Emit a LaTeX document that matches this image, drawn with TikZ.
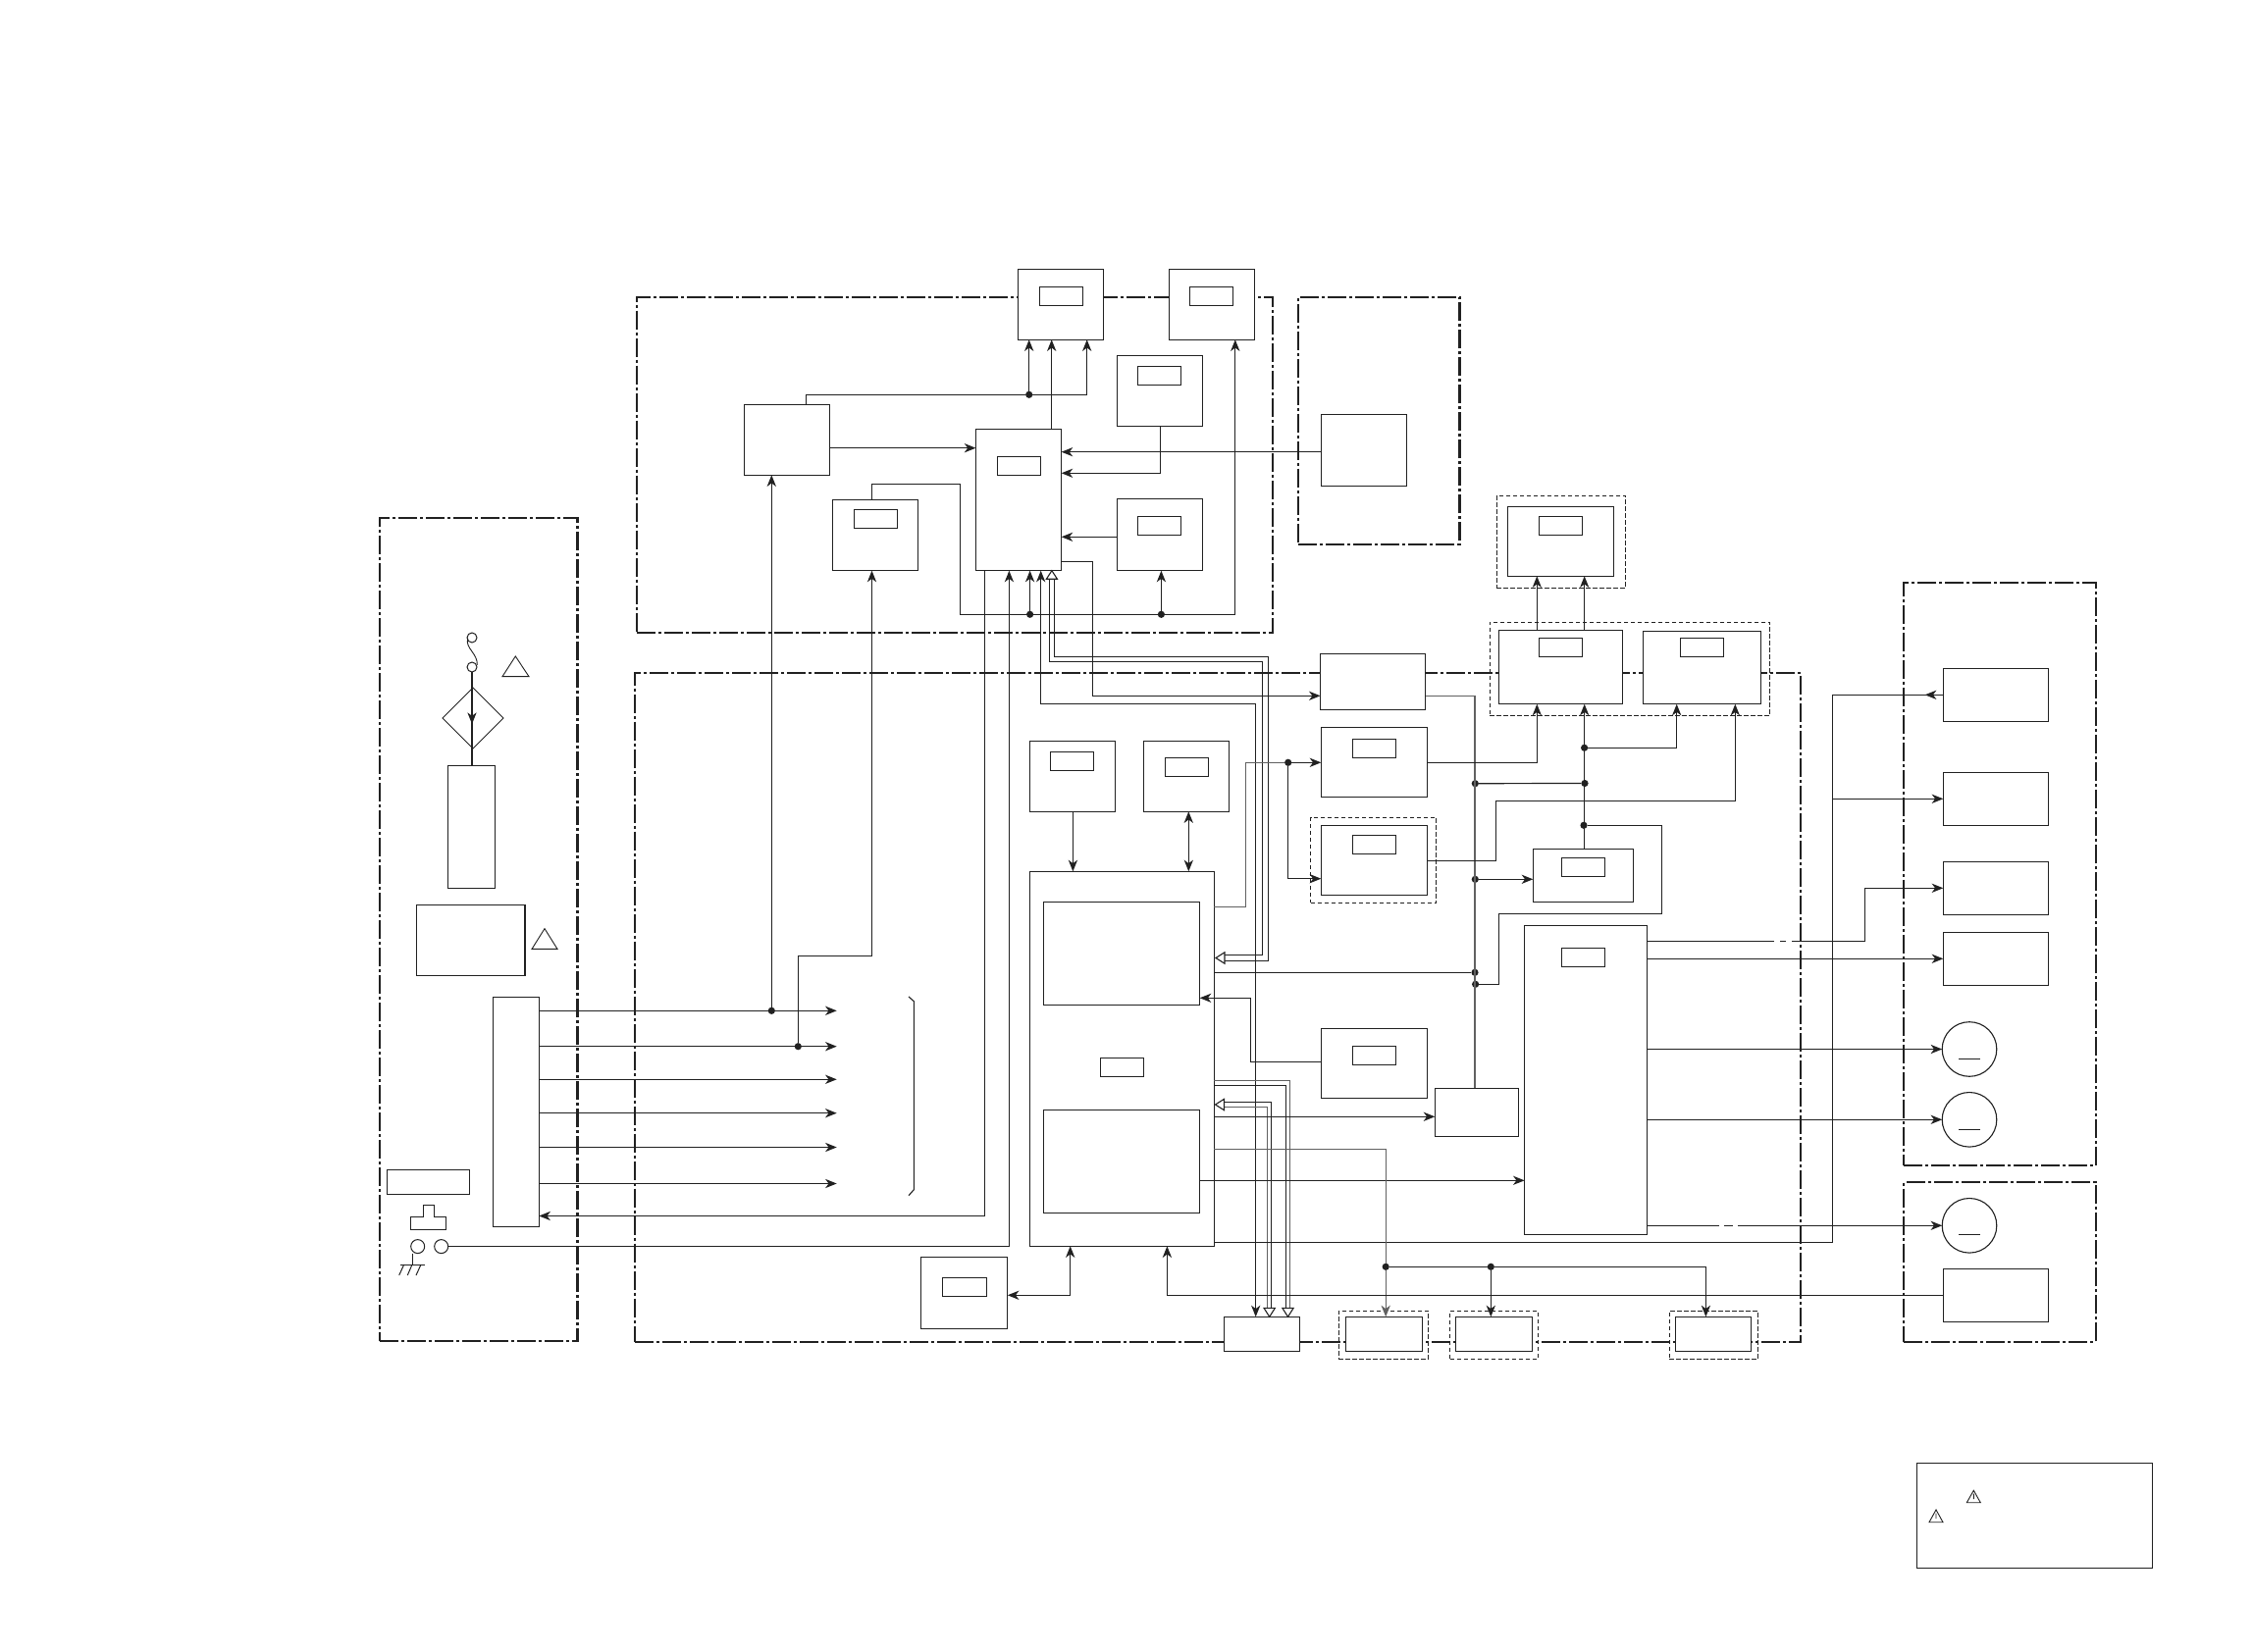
\documentclass[tikz,border=0pt]{standalone}
\usetikzlibrary{arrows.meta,shapes.geometric}
\definecolor{dk}{gray}{0.13}
\definecolor{md}{gray}{0.38}
\tikzset{
  x=0.5pt,y=-0.5pt,
  boxnode/.style={draw=dk,fill=white,line width=.6pt,rectangle,inner sep=0pt,outer sep=0pt},
  innerbox/.style={boxnode,line width=.55pt},
  panel/.style={draw=dk,rectangle,inner sep=0pt,outer sep=0pt,line width=1.15pt,dash pattern=on 9.5pt off 1.5pt on 1.5pt off 1.5pt},
  dashbox/.style={draw=dk,rectangle,inner sep=0pt,outer sep=0pt,line width=.45pt,dash pattern=on 2.2pt off 1.3pt},
  conn/.style={draw=dk,line width=.6pt},
  arr/.style={conn,-{Stealth[length=5.8pt,width=4.6pt,inset=1.7pt]}},
  darr/.style={conn,{Stealth[length=5.8pt,width=4.6pt,inset=1.7pt]}-{Stealth[length=5.8pt,width=4.6pt,inset=1.7pt]}},
  dot/.style={circle,fill=dk,draw=none,inner sep=0pt,minimum size=3.6pt,outer sep=0pt},
  ringnode/.style={circle,draw=dk,fill=white,line width=.5pt,inner sep=0pt,outer sep=0pt,minimum size=7pt},
  motornode/.style={circle,draw=dk,fill=white,line width=.55pt,inner sep=0pt,outer sep=0pt,minimum size=27.8pt},
  hollow/.style={draw=dk,fill=white,line width=.55pt,line join=miter},
  thin sym/.style={draw=dk,line width=.45pt}
}
\newcommand\rbox[6][boxnode]{\node[#1,minimum width={(#5-#3)*0.5pt},minimum height={(#6-#4)*0.5pt}] (#2) at ({(#3+#5)/2},{(#4+#6)/2}) {};}
\newcommand\hollowL[2]{\draw[hollow] (#1,#2) -- ({#1+9},{#2-5.7}) -- ({#1+9},{#2+5.7}) -- cycle;}
\newcommand\hollowD[2]{\draw[hollow] (#1,#2) -- ({#1-5.7},{#2-9}) -- ({#1+5.7},{#2-9}) -- cycle;}
\newcommand\hollowU[2]{\draw[hollow] (#1,#2) -- ({#1-5.5},{#2+8.5}) -- ({#1+5.5},{#2+8.5}) -- cycle;}
\begin{document}
\begin{tikzpicture}
\path[fill=white,use as bounding box] (0,0) rectangle (2296,1684);
% panels
\rbox[panel]{PL}{387}{528.3}{588.5}{1367.3}
\rbox[panel]{PT}{649}{302.7}{1297}{644.7}
\rbox[panel]{PS}{1323}{302.7}{1487.5}{554.7}
\rbox[panel]{PM}{647}{685.7}{1835}{1367.7}
\rbox[panel]{PA}{1940}{594.3}{2135.7}{1188.3}
\rbox[panel]{PB}{1940}{1205.3}{2135.7}{1367.7}
% dashed surrounds
\rbox[dashbox]{DA}{1525.3}{505.3}{1656.7}{599.3}
\rbox[dashbox]{DB}{1518.3}{634}{1803.7}{729.3}
\rbox[dashbox]{DC}{1335.6}{833.3}{1463.8}{920.3}
\rbox[dashbox]{DD}{1364.3}{1336.3}{1455.8}{1385.3}
\rbox[dashbox]{DE}{1477.6}{1336.3}{1567.5}{1385.3}
\rbox[dashbox]{DF}{1701.3}{1336.3}{1791.5}{1385.3}
% top section boxes
\rbox{UA}{1037.7}{274.3}{1124.4}{346.3}
\rbox[innerbox]{UAi}{1059.6}{292.3}{1103.5}{311.7}
\rbox{UB}{1191.3}{274.3}{1278.5}{346.3}
\rbox[innerbox]{UBi}{1212.7}{292.3}{1256.6}{311.7}
\rbox{UC}{1138.6}{362.3}{1225.3}{434.3}
\rbox[innerbox]{UCi}{1159.5}{373.3}{1203.4}{392.3}
\rbox{UD}{758.5}{412.3}{845.7}{484.3}
\rbox{UE}{994.4}{437.3}{1081.6}{581.7}
\rbox[innerbox]{UEi}{1016.9}{465.3}{1060.7}{484.7}
\rbox{UF}{848.4}{509.3}{935.7}{581.7}
\rbox[innerbox]{UFi}{870.4}{519.3}{914.3}{538.3}
\rbox{UG}{1138.6}{508.3}{1225.3}{581.7}
\rbox[innerbox]{UGi}{1159.5}{526.3}{1203.4}{545.7}
\rbox{UH}{1346.5}{422.3}{1433.7}{495.3}
% main section boxes
\rbox{MA}{1345.6}{666.3}{1452.7}{723.3}
\rbox{MB}{1346.3}{741.3}{1454.6}{812.3}
\rbox[innerbox]{MBi}{1378.5}{753.3}{1422.5}{772.3}
\rbox{MC}{1346.3}{841.3}{1454.6}{912.3}
\rbox[innerbox]{MCi}{1378.5}{851.3}{1422.5}{870.3}
\rbox{MD}{1049.4}{755.3}{1136.6}{827.3}
\rbox[innerbox]{MDi}{1070.4}{766.3}{1114.8}{785.3}
\rbox{ME}{1165.3}{755.3}{1252.6}{827.3}
\rbox[innerbox]{MEi}{1187.5}{772.3}{1231.5}{791.3}
\rbox{IC}{1049.4}{888.3}{1237.3}{1270.3}
\rbox[innerbox]{ICa}{1063.5}{919.3}{1222.7}{1024.3}
\rbox[innerbox]{ICb}{1063.5}{1131.3}{1222.7}{1236.3}
\rbox[innerbox]{ICc}{1121.3}{1078.3}{1165.7}{1097.3}
\rbox{MF}{1346.3}{1048.3}{1454.6}{1119.3}
\rbox[innerbox]{MFi}{1378.5}{1066.3}{1422.5}{1085.3}
\rbox{MG}{1462.3}{1109.3}{1547.6}{1158.3}
\rbox{MH}{1562.3}{865.3}{1664.3}{919.3}
\rbox[innerbox]{MHi}{1591.3}{874.3}{1635.7}{893.3}
\rbox{MI}{1553.6}{943.3}{1678.6}{1258.3}
\rbox[innerbox]{MIi}{1591.5}{966.3}{1635.7}{985.3}
\rbox{MJ}{938.7}{1281.3}{1026.8}{1354.3}
\rbox[innerbox]{MJi}{960.6}{1302.3}{1005.7}{1321.3}
\rbox{MK}{1247.2}{1342.3}{1324.5}{1377.3}
\rbox{ML}{1371.6}{1342.3}{1449.7}{1377.3}
\rbox{MM}{1483.3}{1342.3}{1561.4}{1377.3}
\rbox{MN}{1707.6}{1342.3}{1784.4}{1377.3}
\rbox{TA}{1536.3}{516.3}{1644.7}{587.3}
\rbox[innerbox]{TAi}{1568.3}{526.3}{1612.7}{545.3}
\rbox{TB}{1527.3}{642.3}{1653.7}{717.7}
\rbox[innerbox]{TBi}{1568.3}{650.3}{1612.7}{669.3}
\rbox{TC}{1674.3}{643.3}{1794.7}{717.7}
\rbox[innerbox]{TCi}{1712.3}{650.3}{1756.7}{669.3}
% right boxes
\rbox{RA}{1980.3}{681.3}{2087.7}{735.3}
\rbox{RB}{1980.3}{787.3}{2087.7}{841.3}
\rbox{RC}{1980.3}{878.3}{2087.7}{932.3}
\rbox{RD}{1980.3}{950.3}{2087.7}{1004.3}
\rbox{RE}{1980.3}{1293.3}{2087.7}{1347.3}
\node[motornode] (MOa) at (2007,1069.5) {};
\node[motornode] (MOb) at (2007,1141.3) {};
\node[motornode] (MOc) at (2007,1249.3) {};
\draw[thin sym] (1996,1079.3) -- (2018,1079.3);
\draw[thin sym] (1996,1151.3) -- (2018,1151.3);
\draw[thin sym] (1996,1258.3) -- (2018,1258.3);
% left panel
\rbox{LA}{456.3}{780.5}{504.7}{905.6}
\rbox{LB}{424.3}{922.5}{535}{994.3}
\rbox{CN}{502.3}{1016.7}{549.3}{1250.7}
\rbox{LC}{394.3}{1192.4}{478.7}{1217.4}
\node[diamond,aspect=1,draw=dk,fill=white,line width=.5pt,inner sep=0pt,outer sep=0pt,minimum width=31pt,minimum height=31pt] (DI) at (482,732) {};
\node[ringnode,minimum size=5pt] (CLa) at (481,650) {};
\node[ringnode,minimum size=5pt] (CLb) at (481,680) {};
\draw[conn,line width=.45pt] (476.6,651) .. controls (474,661) and (487,666) .. (486.3,678);
\draw[thin sym] (525.3,669) -- (512,689.6) -- (539,689.6) -- cycle;
\draw[thin sym] (555,946.6) -- (542,967.4) -- (568,967.4) -- cycle;
\draw[conn] (CLb.south) -- (CLb.south |- LA.north);
\draw[arr] (CLb.south) -- (481,738);
\draw[conn,line width=.5pt] (418.3,1240.6) -- (431,1240.6) -- (431,1228.9) -- (442.7,1228.9) -- (442.7,1240.6) -- (454,1240.6) -- (454,1253) -- (418.3,1253) -- cycle;
\node[ringnode] (JA) at (425.7,1270.6) {};
\node[ringnode] (JB) at (449.7,1270.6) {};
\coordinate (GN) at (420,1289);
\draw[conn,line width=.5pt] (JA.south -| GN) -- (GN);
\draw[conn,line width=.5pt] (408,1289) -- (433,1289);
\draw[conn,line width=.5pt] (411.7,1289) -- (406.7,1300) (420,1289) -- (415.3,1300) (429,1289) -- (424,1300);
% six supply arrows
\coordinate (Ea) at (852.7,1030.3);
\coordinate (Eb) at (852.7,1066.7);
\coordinate (Ec) at (852.7,1100.3);
\coordinate (Ed) at (852.7,1134.7);
\coordinate (Ee) at (852.7,1169.5);
\coordinate (Ef) at (852.7,1206.5);
\foreach \e in {Ea,Eb,Ec,Ed,Ee,Ef}{\draw[arr] (CN.east |- \e) -- (\e);}
\draw[conn,line width=.55pt] (926,1016) -- (931.3,1020.7) -- (931.3,1212.7) -- (926,1218.7);
\node[dot] (Da) at (786.3,1030.3) {};
\node[dot] (Db) at (813.3,1066.7) {};
\draw[arr] (Da) -- (Da |- UD.south);
\draw[arr] (Db) -- (813.3,974.6) -- (888.5,974.6) -- (888.5,0 |- UF.south);
\draw[arr] (UE.south -| 1003.7,0) -- (1003.7,1239.5) -- (CN.east |- 0,1239.5);
\draw[arr] (JB.east) -- (1028.4,1270.6) -- (1028.4,0 |- UE.south);
% top section connectors
\node[dot] (Dc) at (1048.7,402.3) {};
\draw[conn] (821.6,0 |- UD.north) -- (821.6,402.3) -- (Dc);
\draw[arr] (Dc) -- (Dc |- UA.south);
\draw[arr] (Dc) -- (1107.7,402.3) -- (1107.7,0 |- UA.south);
\draw[arr] (1071.7,0 |- UE.north) -- (1071.7,0 |- UA.south);
\draw[arr] (UD.east |- 0,456.7) -- (UE.west |- 0,456.7);
\draw[arr] (UH.west |- 0,460.7) -- (UE.east |- 0,460.7);
\draw[arr] (1182.5,0 |- UC.south) -- (1182.5,482.3) -- (UE.east |- 0,482.3);
\draw[arr] (UG.west |- 0,547.3) -- (UE.east |- 0,547.3);
\node[dot] (Dd) at (1049.6,626.3) {};
\node[dot] (De) at (1183.4,626.3) {};
\draw[conn] (888.5,0 |- UF.north) -- (888.5,493.7) -- (978.5,493.7) -- (978.5,626.3) -- (Dd);
\draw[conn] (Dd) -- (De);
\draw[arr] (De) -- (1258.8,626.3) -- (1258.8,0 |- UB.south);
\draw[arr] (Dd) -- (Dd |- UE.south);
\draw[arr] (De) -- (De |- UG.south);
\draw[arr] (UE.east |- 0,572.3) -- (1113.6,572.3) -- (1113.6,709.3) -- (MA.west |- 0,709.3);
\draw[arr] (1279.7,717.3) -- (1060.7,717.3) -- (1060.7,0 |- UE.south);
\draw[arr] (1279.7,717.3) -- (1279.7,0 |- MK.north);
% bus to CPU
\draw[conn,line width=.55pt] (1069.6,590) -- (1069.6,674.3) -- (1286.6,674.3) -- (1286.6,973.7) -- (1248,973.7);
\draw[conn,line width=.55pt] (1074.2,590) -- (1074.2,669.3) -- (1292.8,669.3) -- (1292.8,979.3) -- (1248,979.3);
\hollowU{1071.9}{581.7}
\hollowL{1239}{976.5}
% buses to MK
\draw[conn,draw=md,line width=.7pt] (IC.east |- 0,1101.7) -- (1314.7,1101.7) -- (1314.7,1333);
\draw[conn,line width=.55pt] (IC.east |- 0,1106.7) -- (1310.3,1106.7) -- (1310.3,1333);
\draw[conn,line width=.55pt] (1247,1123.7) -- (1295.7,1123.7) -- (1295.7,1333);
\draw[conn,draw=md,line width=.7pt] (1247,1128.3) -- (1291.6,1128.3) -- (1291.6,1333);
\hollowD{1312.5}{1342.3}
\hollowD{1293.7}{1342.3}
\hollowL{1238.5}{1126}
% IC to clock section
\draw[darr] (1211.3,0 |- ME.south) -- (1211.3,0 |- IC.north);
\draw[arr] (1093.4,0 |- MD.south) -- (1093.4,0 |- IC.north);
\node[dot] (Df) at (1312.7,777.3) {};
\draw[conn,draw=md,line width=.7pt] (IC.east |- 0,924.3) -- (1269.4,924.3) -- (1269.4,777.3) -- (Df);
\draw[arr] (Df) -- (MB.west |- Df);
\draw[arr] (Df) -- (1312.7,895.7) -- (MC.west |- 0,895.7);
% vertical supply
\node[dot] (Dg) at (1503.3,798.7) {};
\node[dot] (Dh) at (1503.3,896.3) {};
\node[dot] (Di) at (1503,991.3) {};
\node[dot] (Dj) at (1503.6,1003.3) {};
\draw[conn,draw=md,line width=.7pt] (MA.east |- 0,709.3) -- (1503,709.3) -- (1503,0 |- MG.north);
\draw[conn] (IC.east |- Di) -- (Di);
\node[dot] (Dk) at (1615,798.5) {};
\node[dot] (Dl) at (1614.6,762.3) {};
\node[dot] (Dm) at (1614,841.3) {};
\draw[conn] (Dg) -- (Dk);
\draw[arr] (Dh) -- (MH.west |- Dh);
\draw[conn] (Dj) -- (1527.3,1003.3) -- (1527.3,931.3) -- (1693.7,931.3) -- (1693.7,841.3) -- (Dm);
\draw[arr] (1614.7,0 |- MH.north) -- (1614.7,0 |- TB.south);
\draw[arr] (MC.east |- 0,877.3) -- (1524.3,877.3) -- (1524.3,816.3) -- (1768.3,816.3) -- (1768.3,0 |- TC.south);
\draw[arr] (MB.east |- 0,777.3) -- (1566.3,777.3) -- (1566.3,0 |- TB.south);
\draw[arr] (Dl) -- (1708.7,762.3) -- (1708.7,0 |- TC.south);
\draw[arr] (1566.3,0 |- TB.north) -- (1566.3,0 |- TA.south);
\draw[arr] (1614.7,0 |- TB.north) -- (1614.7,0 |- TA.south);
% MI driver outputs
\draw[conn] (MI.east |- 0,959.3) -- (1808.3,959.3) (1814,959.3) -- (1820,959.3);
\draw[arr] (1826,959.3) -- (1900.3,959.3) -- (1900.3,905.3) -- (RC.west |- 0,905.3);
\draw[arr] (MI.east |- 0,977.3) -- (RD.west |- 0,977.3);
\draw[arr] (MI.east |- 0,1069.5) -- (MOa.west);
\draw[arr] (MI.east |- 0,1141.3) -- (MOb.west);
\draw[conn] (MI.east |- 0,1249.3) -- (1752.2,1249.3) (1756.7,1249.3) -- (1765.6,1249.3);
\draw[arr] (1771,1249.3) -- (MOc.west);
\draw[arr] (ICb.east |- 0,1203.3) -- (MI.west |- 0,1203.3);
\draw[arr] (IC.east |- 0,1138.3) -- (MG.west |- 0,1138.3);
% MF to ICa
\draw[arr] (MF.west |- 0,1082.3) -- (1274.4,1082.3) -- (1274.4,1017.3) -- (ICa.east |- 0,1017.3);
% R boxes bus
\coordinate (Hv) at (1867.3,708.3);
\draw[conn] (RA.west |- Hv) -- (Hv) -- (1867.3,1266.3) -- (IC.east |- 0,1266.3);
\draw[arr] (RA.west |- Hv) -- (1961.7,708.3);
\draw[arr] (1867.3,814.3) -- (RB.west |- 0,814.3);
% lower buses
\node[dot] (Dn) at (1412.2,1291.3) {};
\node[dot] (Do) at (1519.3,1291.3) {};
\draw[conn,draw=md,line width=.7pt] (IC.east |- 0,1171.7) -- (1412.2,1171.7) -- (Dn);
\draw[arr,draw=md,line width=.7pt] (Dn) -- (Dn |- ML.north);
\draw[conn] (Dn) -- (Do);
\draw[arr] (Do) -- (Do |- MM.north);
\draw[arr] (Do) -- (1738.4,1291.3) -- (1738.4,0 |- MN.north);
\draw[arr] (RE.west |- 0,1320.3) -- (1189.4,1320.3) -- (1189.4,0 |- IC.south);
\draw[darr] (MJ.east |- 0,1320.3) -- (1090.7,1320.3) -- (1090.7,0 |- IC.south);
% note
\rbox{NB}{1953.3}{1491.7}{2193.3}{1598.3}
\draw[thin sym] (2011.3,1519.3) -- (2004.3,1531.7) -- (2018.3,1531.7) -- cycle (2011.3,1522.5) -- (2011.3,1528);
\draw[thin sym] (1973,1539) -- (1966,1551.7) -- (1980,1551.7) -- cycle (1973,1542.5) -- (1973,1548);
\end{tikzpicture}
\end{document}
